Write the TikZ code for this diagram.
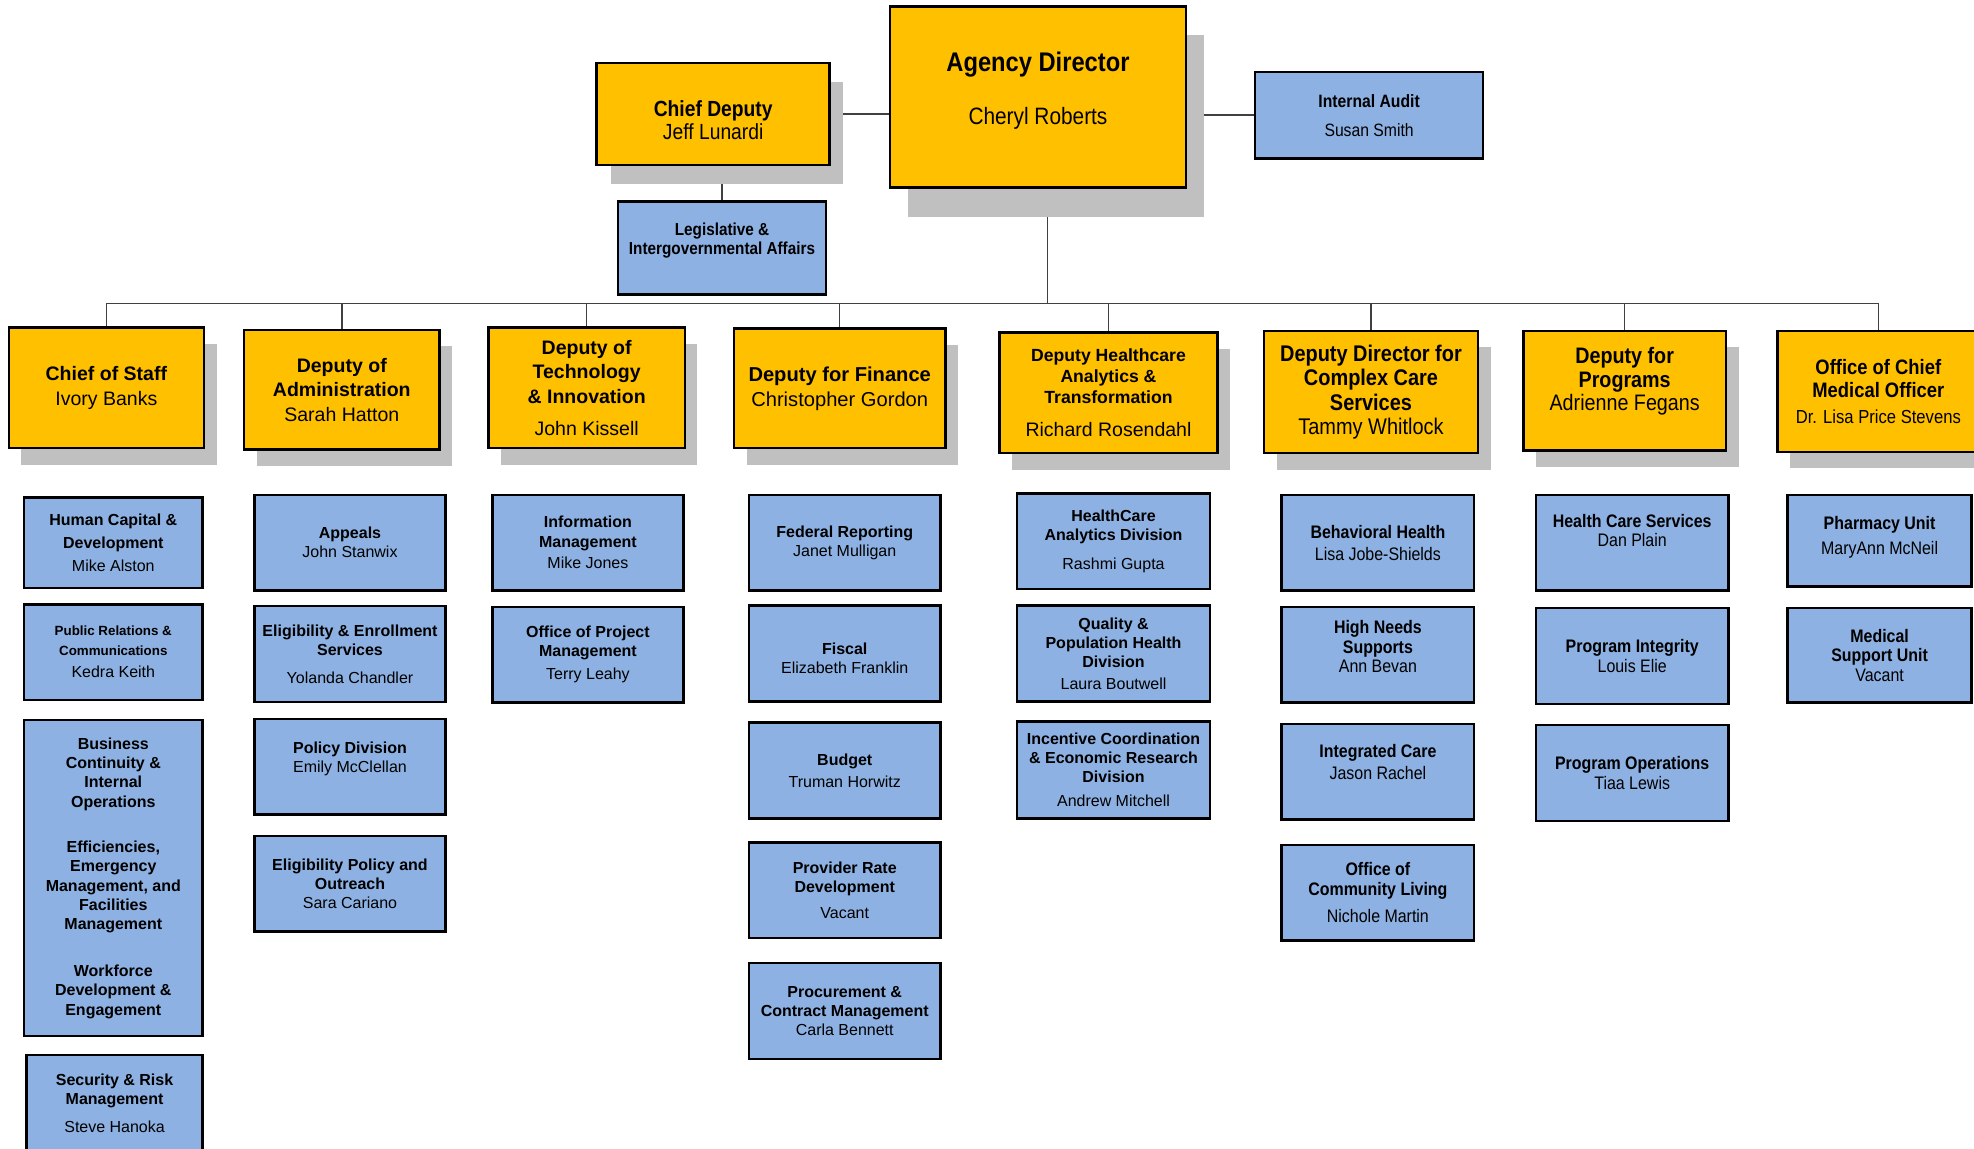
\documentclass[tikz,border=0pt]{standalone}
\usepackage{fontspec}
\setmainfont{Liberation Sans}
\newfontfamily\narrowfont[FakeStretch=0.88]{Liberation Sans}
\usetikzlibrary{shadows, backgrounds}

\definecolor{gold}{HTML}{FFC000}
\definecolor{sky}{HTML}{8DB1E2}
\definecolor{shadowgray}{HTML}{C0C0C0}

\begin{document}
\begin{tikzpicture}[
    x = 0.5pt, y = -0.5pt,
    %
    box/.style = {draw, line width = 1pt, inner sep = 0pt, align = center},
    dims/.style 2 args = {minimum width = #1*0.5pt, minimum height = #2*0.5pt},
    shadowed/.style 2 args = {drop shadow = {shadow xshift = #1,
        shadow yshift = #2, fill = shadowgray, opacity = 1}},
    %
    headbox/.style = {box, fill = gold},
    deputy/.style = {headbox, shadowed = {5pt}{-6.5pt},
      font = \fontsize{7.75}{9.75}\selectfont},
    narrowdeputy/.style = {deputy,
      font = \narrowfont\fontsize{9}{9.75}\selectfont},
    unitbox/.style = {box, fill = sky, dims = {152}{76},
      font = \fontsize{6.35}{7.6}\selectfont},
    narrowunit/.style = {unitbox,
      font = \narrowfont\fontsize{7.2}{7.75}\selectfont},
    connector/.style = {black!75, line width = 0.6pt},
    ]

    \useasboundingbox (0, 0) rectangle (1568, 912);

    \node at (824.5, 77)
    [headbox, shadowed = {7pt}{-11.5pt}, dims = {235}{144},
      font = \narrowfont\fontsize{9.4}{11}\selectfont, name = AD]
    {{\fontsize{10.7}{13}\selectfont\bfseries Agency Director}\\[10pt]
      Cheryl Roberts\\[-4pt]\mbox{}};
    \node at (566.5, 90.5)
    [headbox, shadowed = {5.5pt}{-7.5pt}, dims = {185}{81},
      font = \narrowfont\fontsize{8.7}{9}\selectfont, name = CD]
    {\mbox{}\\[2.3pt]\textbf{Chief Deputy}\\Jeff Lunardi};
    \node at (1087.5, 91.5)
    [unitbox, dims = {181}{69},
      font = \narrowfont\fontsize{7.1}{8}\selectfont, name = IA]
    {\textbf{Internal Audit}\\[3.5pt]Susan Smith};
    \node at (573.5, 197)
    [unitbox, dims = {165}{74},
      font = \narrowfont\bfseries\fontsize{6.9}{7.5}\selectfont, name = LIA]
    {Legislative \&\\Intergovernmental Affairs\\\mbox{}};

    \node at (84.5, 308)
    [deputy, dims = {155}{96}, name = CoS]
    {\textbf{Chief of Staff}\\Ivory Banks};
    \node at (271.5, 309.5)
    [deputy, dims = {155}{95}, name = Adm]
    {\textbf{Deputy of}\\\textbf{Administration}\\Sarah Hatton};
    \node at (466, 308)
    [deputy, dims = {156}{96}, name = Tech]
    {\textbf{Deputy of}\\\textbf{Technology}\\\textbf{\& Innovation}\\[3pt]John Kissell};
    \node at (667, 308.5)
    [deputy, dims = {168}{95}, font = \fontsize{8}{10}\selectfont, name = Fin]
    {\textbf{Deputy for Finance}\\Christopher Gordon};
    \node at (880.5, 312)
    [deputy, dims = {173}{96}, font = \fontsize{7}{8.25}\selectfont, name = HCA]
    {\textbf{Deputy Healthcare}\\\textbf{Analytics \&}\\\textbf{Transformation}\\[5pt]
      {\fontsize{7.75}{9}\selectfont Richard Rosendahl}};
    \node at (1089, 311.5)
    [narrowdeputy, dims = {170}{97}, name = CCS]
    {\textbf{Deputy Director for}\\\textbf{Complex Care}\\\textbf{Services}\\Tammy Whitlock};
    \node at (1290.5, 310.5)
    [narrowdeputy, dims = {161}{95},
      font = \narrowfont\fontsize{8.9}{9.5}\selectfont, name = Prog]
    {\textbf{Deputy for}\\\textbf{Programs}\\Adrienne Fegans\\\mbox{}};
    \node at (1492, 311)
    [narrowdeputy, dims = {160}{96},
      font = \narrowfont\fontsize{8.3}{9}\selectfont, name = CMO]
    {\textbf{Office of Chief}\\\textbf{Medical Officer}\\[1.5pt]
      {\fontsize{7.5}{9}\selectfont Dr. Lisa Price Stevens}};

    \node at (90, 431)
    [unitbox, dims = {142}{72}, name = U_HCD]
    {\textbf{Human Capital \&}\\[1.5pt]\textbf{Development}\\[1.5pt]Mike Alston};
    \node at (90, 518)
    [unitbox, dims = {142}{76}, name = U_PRC]
    {{\fontsize{5.3}{6}\selectfont\bfseries Public Relations \&}\\
      {\fontsize{5.3}{6}\selectfont\bfseries Communications}\\[1.5pt]Kedra Keith};
    \node at (90, 697.5)
    [unitbox, dims = {142}{251}, font = \bfseries\fontsize{6.35}{7.65}\selectfont,
      name = U_BCO]
    {Business\\Continuity \&\\Internal\\Operations\\[10.5pt]
      Efficiencies,\\Emergency\\Management, and\\Facilities\\Management\\[11pt]
      Workforce\\Development \&\\Engagement};
    \node at (91, 876)
    [unitbox, dims = {140}{76}, name = U_SRM]
    {\textbf{Security \& Risk}\\\textbf{Management}\\[3.5pt]Steve Hanoka};

    \node at (278, 431)
    [unitbox, name = U_APP]
    {\textbf{Appeals}\\John Stanwix};
    \node at (278, 519.5)
    [unitbox, name = U_EES]
    {\textbf{Eligibility \& Enrollment}\\\textbf{Services}\\[3.5pt]Yolanda Chandler};
    \node at (278, 609)
    [unitbox, name = U_POL]
    {\textbf{Policy Division}\\Emily McClellan\\\mbox{}};
    \node at (278, 702)
    [unitbox, name = U_EPO]
    {\textbf{Eligibility Policy and}\\\textbf{Outreach}\\Sara Cariano};

    \node at (467, 431)
    [unitbox, name = U_IM]
    {\textbf{Information}\\\textbf{Management}\\[1pt]Mike Jones};
    \node at (467, 520)
    [unitbox, name = U_OPM]
    {\textbf{Office of Project}\\\textbf{Management}\\[1.5pt]Terry Leahy};

    \node at (671, 431)
    [unitbox, name = U_FR]
    {\textbf{Federal Reporting}\\Janet Mulligan};
    \node at (671, 519)
    [unitbox, name = U_FIS]
    {\mbox{}\\[1pt]\textbf{Fiscal}\\Elizabeth Franklin};
    \node at (671, 612)
    [unitbox, name = U_BUD]
    {\textbf{Budget}\\[1pt]Truman Horwitz};
    \node at (671, 707)
    [unitbox, name = U_PRD]
    {\textbf{Provider Rate}\\\textbf{Development}\\[2.5pt]Vacant};
    \node at (671, 803)
    [unitbox, name = U_PCM]
    {\textbf{Procurement \&}\\\textbf{Contract Management}\\Carla Bennett};

    \node at (884.5, 430)
    [unitbox, dims = {153}{76}, name = U_HAD]
    {\textbf{HealthCare}\\\textbf{Analytics Division}\\[4pt]Rashmi Gupta};
    \node at (884.5, 519)
    [unitbox, dims = {153}{76}, name = U_QPH]
    {\textbf{Quality \&}\\\textbf{Population Health}\\\textbf{Division}\\[1pt]Laura Boutwell};
    \node at (884.5, 611.5)
    [unitbox, dims = {153}{77}, name = U_ICE]
    {\textbf{Incentive Coordination}\\\textbf{\& Economic Research}\\\textbf{Division}\\[2pt]
      Andrew Mitchell};

    \node at (1094.5, 431)
    [narrowunit, dims = {153}{76}, name = U_BH]
    {\textbf{Behavioral Health}\\[1pt]Lisa Jobe-Shields};
    \node at (1094.5, 520)
    [narrowunit, dims = {153}{76}, name = U_HNS]
    {\textbf{High Needs}\\\textbf{Supports}\\Ann Bevan\\[-1.5pt]\mbox{}};
    \node at (1094.5, 613)
    [narrowunit, dims = {153}{76}, name = U_IC]
    {\textbf{Integrated Care}\\[1pt]Jason Rachel\\\mbox{}};
    \node at (1094.5, 709)
    [narrowunit, dims = {153}{76}, name = U_OCL]
    {\textbf{Office of}\\\textbf{Community Living}\\[3pt]Nichole Martin};

    \node at (1296.5, 431)
    [narrowunit, dims = {153}{76}, name = U_HCS]
    {\textbf{Health Care Services}\\Dan Plain\\[2pt]\mbox{}};
    \node at (1296.5, 521)
    [narrowunit, dims = {153}{76}, name = U_PI]
    {\textbf{Program Integrity}\\Louis Elie};
    \node at (1296.5, 614)
    [narrowunit, dims = {153}{76}, name = U_PO]
    {\textbf{Program Operations}\\Tiaa Lewis};

    \node at (1493, 429.5)
    [narrowunit, dims = {146}{73}, name = U_PU]
    {\textbf{Pharmacy Unit}\\[2pt]MaryAnn McNeil\\[-3.5pt]\mbox{}};
    \node at (1493, 520.5)
    [narrowunit, dims = {146}{75}, name = U_MSU]
    {\textbf{Medical}\\\textbf{Support Unit}\\Vacant};

    \begin{pgfonlayer}{background}
      \coordinate (bus) at (832, 241);

      \draw [connector] (CD.east) -- (CD.east -| AD.west);
      \draw [connector] (IA.west) -- (IA.west -| AD.east);
      \draw [connector] (LIA.north) -- (LIA.north |- CD.south);
      \draw [connector] (bus |- AD.south) -- (bus);
      \draw [connector] (CoS |- bus) -- (CMO |- bus);

      \draw [connector] (CoS |- bus) -- (CoS);
      \draw [connector] (Adm |- bus) -- (Adm);
      \draw [connector] (Tech |- bus) -- (Tech);
      \draw [connector] (Fin |- bus) -- (Fin);
      \draw [connector] (HCA |- bus) -- (HCA);
      \draw [connector] (CCS |- bus) -- (CCS);
      \draw [connector] (Prog |- bus) -- (Prog);
      \draw [connector] (CMO |- bus) -- (CMO);
    \end{pgfonlayer}

  \end{tikzpicture}
\end{document}
